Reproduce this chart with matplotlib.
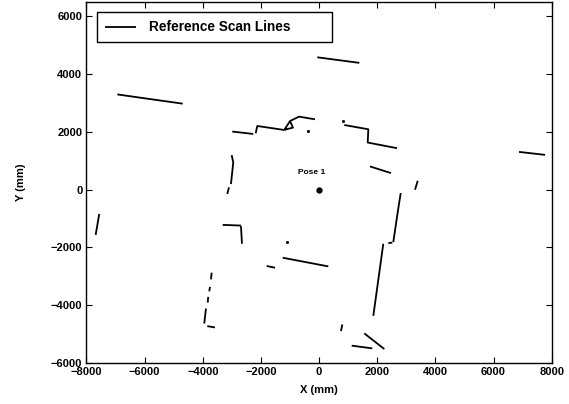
import matplotlib
matplotlib.use("Agg")
import matplotlib.pyplot as plt

# Scan line segments (X, Y in mm), each a polyline
seg_x = [
    [-6940, -4690],
    [-2986, -2264],
    [-2181, -2126, -1197],
    [-1197, -1050, -1001, -900, -1100, -1197],
    [-1001, -691, -141],
    [867, 1693, 1672, 2680],
    [-62, 1383],
    [6877, 7771],
    [1751, 2473],
    [3392, 3299],
    [-3007, -2952, -3031],
    [-3099, -3158],
    [-7561, -7685],
    [-3316, -2687],
    [-2687, -2652],
    [-1803, -1517],
    [-1252, 316],
    [2807, 2704, 2552],
    [2380, 2518],
    [2208, 1865],
    [798, 753],
    [1555, 2243],
    [1121, 1830],
    [-3695, -3719],
    [-3753, -3777],
    [-3812, -3832],
    [-3891, -3949],
    [-3846, -3581],
]
seg_y = [
    [3300, 2980],
    [2014, 1931],
    [1955, 2207, 2069],
    [2069, 2300, 2379, 2150, 2100, 2069],
    [2379, 2531, 2438],
    [2241, 2093, 1634, 1438],
    [4586, 4393],
    [1310, 1207],
    [807, 576],
    [310, 0],
    [1196, 945, 197],
    [83, -148],
    [-838, -1562],
    [-1217, -1241],
    [-1262, -1872],
    [-2641, -2700],
    [-2355, -2655],
    [-114, -779, -1814],
    [-1850, -1830],
    [-1872, -4365],
    [-4665, -4896],
    [-4975, -5517],
    [-5400, -5493],
    [-2872, -3103],
    [-3365, -3517],
    [-3710, -3907],
    [-4113, -4631],
    [-4724, -4769],
]
# isolated scan points
dot_x = [833, -1094, -392]
dot_y = [2379, -1793, 2024]

pose_x = [0]
pose_y = [0]
pose_label = "Pose 1"

fig = plt.figure(figsize=(5.69, 4.04), dpi=100)
ax = fig.add_axes([0.152, 0.1015, 0.8176, 0.8935])

font = "Liberation Sans"
for i, (xs, ys) in enumerate(zip(seg_x, seg_y)):
    ax.plot(xs, ys, color="black", lw=1.3, solid_capstyle="butt",
            label="Reference Scan Lines" if i == 0 else None)
ax.plot(dot_x, dot_y, ls="none", marker="o", ms=1.2, color="black")
ax.plot(pose_x, pose_y, ls="none", marker="o", ms=3.5, color="black")
ax.text(pose_x[0] - 255, pose_y[0] + 610, pose_label, ha="center", va="center",
        fontsize=6, fontweight="bold", family=font)

ax.set_xlim(-8000, 8000)
ax.set_ylim(-6000, 6500)
ax.set_xticks(range(-8000, 8001, 2000))
ax.set_yticks(range(-6000, 6001, 2000))
ax.tick_params(direction="in", top=True, right=True, length=4, width=0.8,
               labelsize=8, pad=3)
for lab in ax.get_xticklabels() + ax.get_yticklabels():
    lab.set_fontweight("bold")
    lab.set_family(font)
for s in ax.spines.values():
    s.set_linewidth(1.0)

ax.set_xlabel("X (mm)", fontsize=8, fontweight="bold", family=font, labelpad=6)
ax.set_ylabel("Y (mm)", fontsize=8, fontweight="bold", family=font, labelpad=18)

leg = ax.legend(loc="upper left", bbox_to_anchor=(0.0226, 0.900, 0.505, 0.072),
                mode="expand", borderaxespad=0, fancybox=False, framealpha=1,
                edgecolor="black", handlelength=2.3, handletextpad=0.9,
                borderpad=0.6, prop={"family": font, "size": 9.8, "weight": "bold"})
leg.get_frame().set_linewidth(1.0)

fig.savefig("out.png", dpi=100)
